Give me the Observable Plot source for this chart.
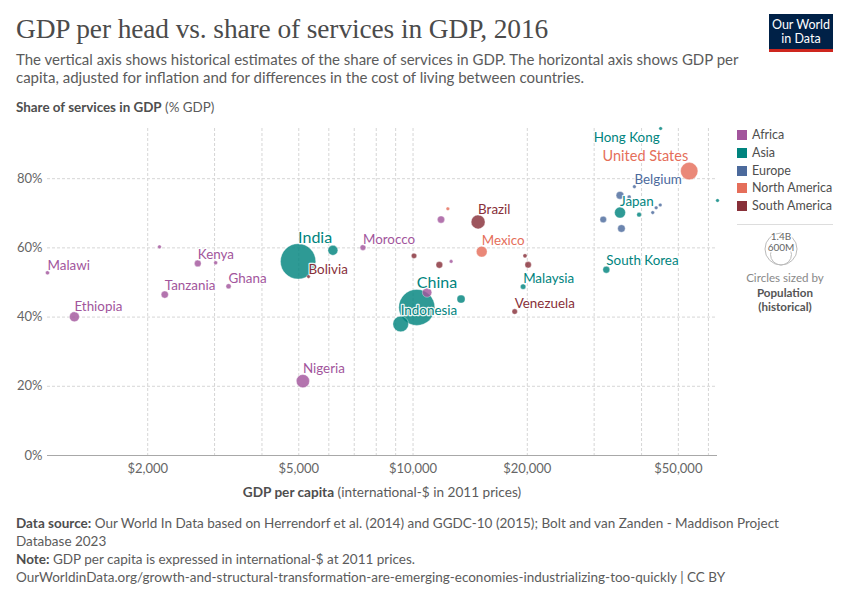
<!DOCTYPE html>
<html><head><meta charset="utf-8">
<script src="https://cdn.jsdelivr.net/npm/d3@7"></script>
<script src="https://cdn.jsdelivr.net/npm/@observablehq/plot@0.6"></script>
<style>
body{margin:0;background:#fff;font-family:Lato,"Noto Sans",sans-serif;}
#root{position:relative;width:850px;height:600px;overflow:hidden;background:#fff}
.abs{position:absolute;white-space:nowrap}
#title{left:16px;top:12px;font-family:"Liberation Serif",serif;font-size:27.4px;line-height:34px;color:#4b4b4b;font-weight:400;letter-spacing:-0.1px}
#subtitle{left:16px;top:50px;font-size:15px;line-height:18px;color:#5b5b5b}
#ylab{left:16px;top:99px;font-size:13.4px;line-height:16px;color:#5b5b5b}
#xlab{left:47px;width:670px;top:484px;font-size:13.6px;line-height:16px;color:#5b5b5b;text-align:center}
#footer{left:16px;top:514px;font-size:13.5px;line-height:18px;color:#5b5b5b}
b{font-weight:700;color:#4e4e4e}
#logo{left:769px;top:14px;width:64px;background:#002147;border-bottom:3px solid #ce261e;color:#fff;font-size:12.5px;line-height:13.5px;text-align:center;padding-top:4px;box-sizing:content-box;height:31px}
.leg{left:737px;font-size:12.5px;line-height:15px;color:#4e4e4e}
.sw{display:inline-block;width:10px;height:10px;vertical-align:-1px;margin-right:5px}
#sizeleg{left:736px;top:224px;width:97px}
</style></head><body><div id="root">
<div id="title" class="abs">GDP per head vs. share of services in GDP, 2016</div>
<div id="subtitle" class="abs">The vertical axis shows historical estimates of the share of services in GDP. The horizontal axis shows GDP per<br>capita, adjusted for inflation and for differences in the cost of living between countries.</div>
<div id="ylab" class="abs"><b>Share of services in GDP</b> (% GDP)</div>
<div id="xlab" class="abs"><b>GDP per capita</b> (international-$ in 2011 prices)</div>
<div id="footer" class="abs"><b>Data source:</b> Our World In Data based on Herrendorf et al. (2014) and GGDC-10 (2015); Bolt and van Zanden - Maddison Project<br>Database 2023<br><b>Note:</b> GDP per capita is expressed in international-$ at 2011 prices.<br>OurWorldinData.org/growth-and-structural-transformation-are-emerging-economies-industrializing-too-quickly | CC BY</div>
<div id="logo" class="abs">Our World<br>in Data</div>
</div>
<script>
// ---- data ----
const countries = ["Malawi","Ethiopia","Senegal","Kenya","Zambia","Tanzania","Ghana","Nigeria","Morocco","South Africa","Tunisia","Egypt",
  "India","Philippines","China","Indonesia","Thailand","Malaysia","South Korea","Japan","Taiwan","Hong Kong","Singapore",
  "Belgium","France","Netherlands","Spain","Italy","Sweden","Austria","Denmark",
  "United States","Mexico","Costa Rica",
  "Brazil","Bolivia","Peru","Colombia","Chile","Argentina","Venezuela"];
const continentOf = ["Africa","Africa","Africa","Africa","Africa","Africa","Africa","Africa","Africa","Africa","Africa","Africa",
  "Asia","Asia","Asia","Asia","Asia","Asia","Asia","Asia","Asia","Asia","Asia",
  "Europe","Europe","Europe","Europe","Europe","Europe","Europe","Europe",
  "North America","North America","North America",
  "South America","South America","South America","South America","South America","South America","South America"];
const gdpPerCapita = [1089,1282,2148,2710,3020,2218,3266,5127,7380,11850,12600,10890,
  4980,6150,10230,9280,13380,19500,32300,35100,39400,44900,63400,
  38300,35100,37100,31700,35400,42800,43700,44800,
  53400,15170,12350,
  14840,5305,10060,11730,19720,20100,18530];
const servicesShare = [52.8,40.1,60.3,55.5,55.7,46.5,48.9,21.5,60.1,68.2,56.1,47.1,
  56.1,59.3,42.8,38.0,45.2,48.8,53.7,70.2,69.6,94.5,73.7,
  77.7,75.2,74.7,68.2,65.6,70.2,71.6,72.4,
  82.2,58.9,71.3,
  67.5,51.7,57.7,55.1,57.7,55.1,41.6];
const populationM = [17.7,103,15,48,16,55,28,186,35,56,11,95,
  1324,104,1379,261,69,31,51,127,23.5,7.3,5.6,
  11.3,65,17,46,60,10,8.7,5.7,
  323,124,4.9,
  206,11,31,48,18,44,31];
const labeledCountries = ["Malawi","Ethiopia","Kenya","Tanzania","Ghana","Nigeria","Morocco","India","China","Indonesia",
  "Malaysia","South Korea","Japan","Hong Kong","Belgium","United States","Mexico","Brazil","Bolivia","Venezuela"];
const continents = ["Africa","Asia","Europe","North America","South America"];
const continentColors = ["#a2559c","#00847e","#4c6a9c","#e56e5a","#883039"];
const xTicks = [2000,5000,10000,20000,50000];
const xGrid = [2000,3000,4000,5000,6000,7000,8000,9000,10000,20000,30000,40000,50000,60000];
const yTicks = [0,20,40,60,80];

// ---- build table ----
const data = countries.map((c,i)=>({country:c, continent:continentOf[i], gdp:gdpPerCapita[i], share:servicesShare[i], pop:populationM[i]}))
  .sort((a,b)=>b.pop-a.pop);
const maxPop = d3.max(data,d=>d.pop);
const rMax = 18;
const minPopShown = 14; // smallest circles remain visible
const rOf = d3.scaleSqrt().domain([0,maxPop]).range([0,rMax]);
const colorOf = c => continentColors[continents.indexOf(c)];
const leftLabels = ["United States","Hong Kong"];
const belowLabels = ["Hong Kong"];

const labelMarks = data.filter(d=>labeledCountries.includes(d.country)).map(d=>{
  const r = rOf(Math.max(d.pop,minPopShown));
  const fs = d.pop>1000?16:(d.pop>300?14.5:13.4);
  const left = leftLabels.includes(d.country), below = belowLabels.includes(d.country);
  return Plot.text([d],{x:"gdp",y:"share",text:"country",fill:colorOf(d.continent),
    fontSize:fs, textAnchor:left?"end":"start", lineAnchor:below?"top":"bottom",
    dx:left?-1:0, dy:below?(r+2):-(r+1), stroke:"white", strokeWidth:2.5, strokeOpacity:0.9});
});

const chart = Plot.plot({
  width:740, height:362,
  marginLeft:47, marginRight:23, marginTop:10, marginBottom:25,
  style:{fontFamily:"Lato, sans-serif", fontSize:"13px", color:"#666", background:"transparent", overflow:"visible"},
  x:{type:"log", domain:d3.extent(data,d=>d.gdp), ticks:xTicks, tickFormat:d=>"$"+d3.format(",")(d), tickSize:0, tickPadding:8, label:null},
  y:{domain:[0,d3.max(data,d=>d.share)], ticks:yTicks, tickFormat:d=>d+"%", tickSize:0, tickPadding:5, label:null},
  r:{domain:[0,maxPop], range:[0,rMax]},
  color:{domain:continents, range:continentColors},
  marks:[
    Plot.ruleX(xGrid,{stroke:"#d6d6d6", strokeDasharray:"3,2"}),
    Plot.ruleY(yTicks.filter(t=>t>0),{stroke:"#d6d6d6", strokeDasharray:"3,2"}),
    Plot.ruleY([0],{stroke:"#a8a8a8"}),
    Plot.dot(data,{x:"gdp", y:"share", r:d=>Math.max(d.pop,minPopShown), fill:"continent", fillOpacity:0.82, stroke:"white", strokeWidth:0.5, strokeOpacity:0.7}),
    ...labelMarks
  ]
});
chart.style.position="absolute"; chart.style.left="0px"; chart.style.top="118px";
document.getElementById("root").appendChild(chart);

// ---- legend ----
const root = document.getElementById("root");
const rowY = [135,153,170.5,188,205.5];
continents.forEach((c,i)=>{
  const el = document.createElement("div");
  el.className="abs leg";
  el.style.top=(rowY[i]-8)+"px";
  el.innerHTML=`<span class="sw" style="background:${continentColors[i]}"></span>${c}`;
  root.appendChild(el);
});
const sz = document.createElement("div");
sz.className="abs"; sz.id="sizeleg";
sz.innerHTML=`<svg width="97" height="92" style="display:block;font-family:Lato,sans-serif">
<line x1="1" x2="97" y1="0.5" y2="0.5" stroke="#ddd"/>
<circle cx="45" cy="25" r="16" fill="none" stroke="#bbb"/>
<circle cx="45" cy="30.5" r="10.5" fill="none" stroke="#bbb"/>
<text x="45" y="16" text-anchor="middle" font-size="10" fill="#666" stroke="white" stroke-width="2.5" paint-order="stroke">1.4B</text>
<text x="45" y="27" text-anchor="middle" font-size="10" fill="#666" stroke="white" stroke-width="2.5" paint-order="stroke">600M</text>
<text x="49" y="58" text-anchor="middle" font-size="11.6" fill="#888">Circles sized by</text>
<text x="49" y="72.5" text-anchor="middle" font-size="11.6" font-weight="700" fill="#555">Population</text>
<text x="49" y="87" text-anchor="middle" font-size="11.6" font-weight="700" fill="#555">(historical)</text>
</svg>`;
root.appendChild(sz);
</script>
</body></html>
